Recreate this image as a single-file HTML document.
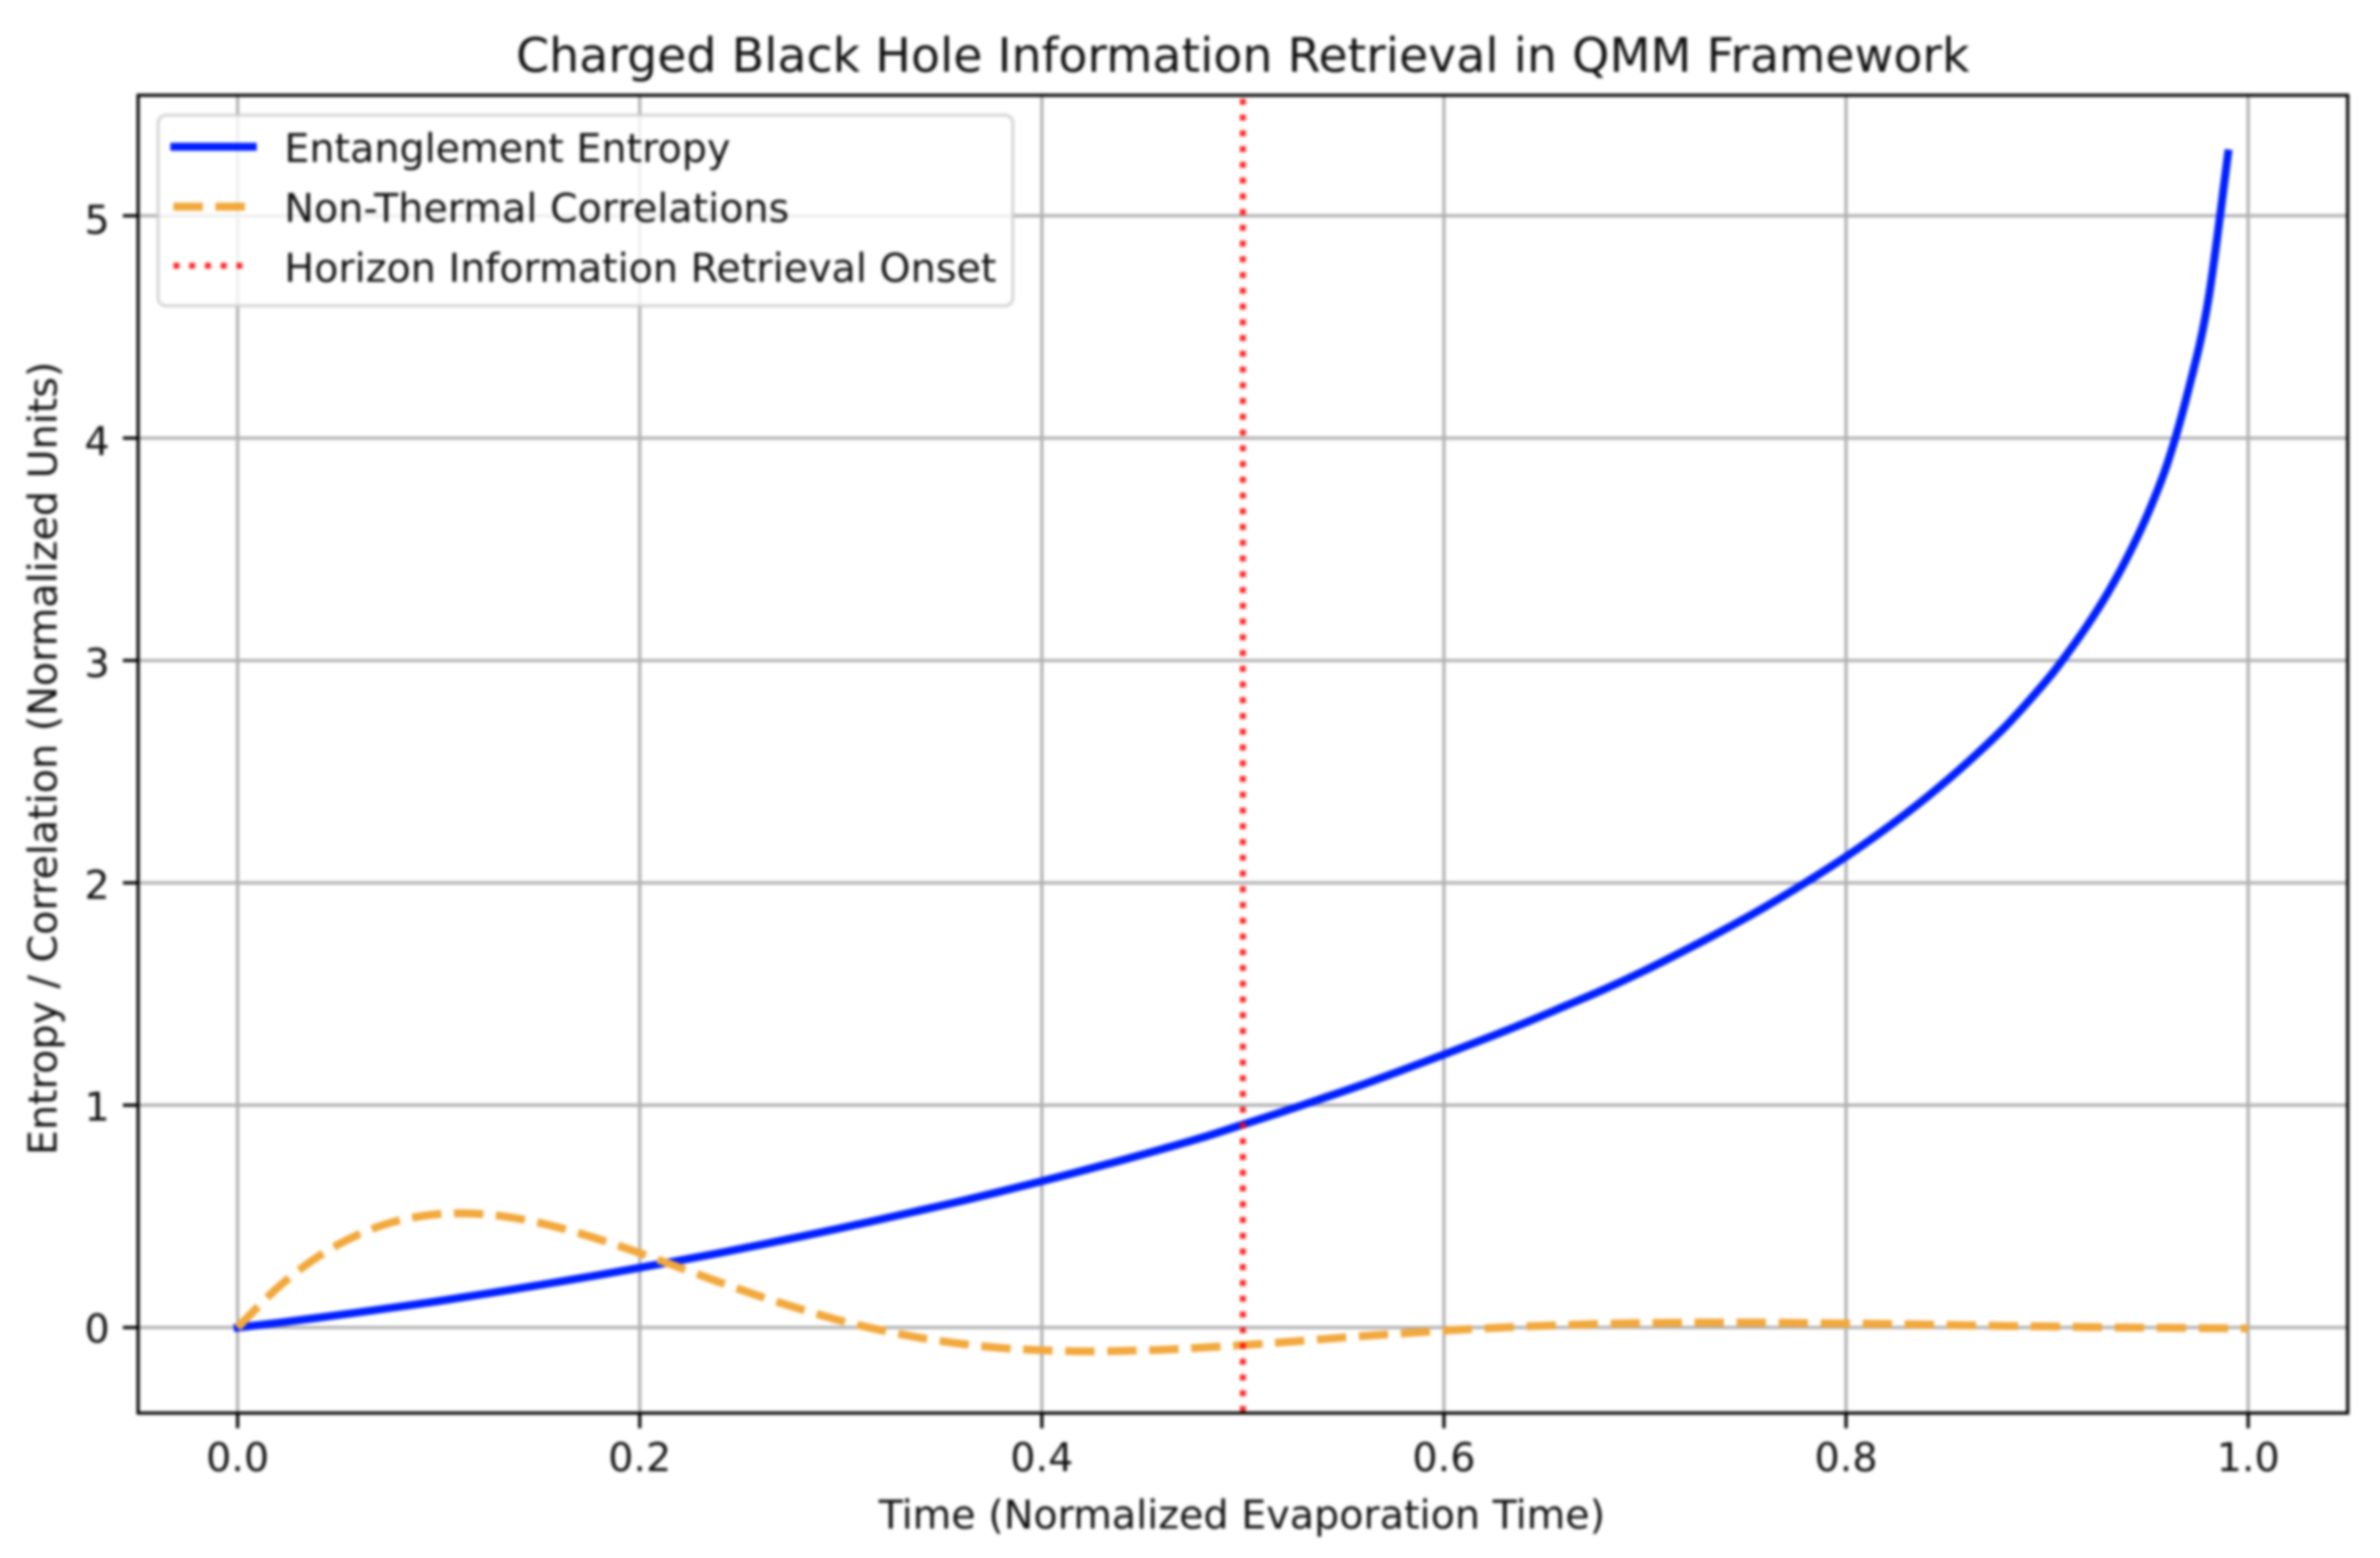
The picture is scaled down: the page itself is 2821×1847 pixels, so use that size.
<!DOCTYPE html>
<html lang="en">
<head>
<meta charset="utf-8">
<title>Charged Black Hole Information Retrieval in QMM Framework</title>
<style>
html,body{margin:0;padding:0;background:#fff;width:2821px;height:1847px;overflow:hidden}
svg{display:block}
text{font-family:"DejaVu Sans","Liberation Sans",sans-serif;fill:#111;text-rendering:geometricPrecision}
</style>
</head>
<body>
<svg id="chart" xmlns="http://www.w3.org/2000/svg" width="2821" height="1847" viewBox="0 0 2821 1847">
  <defs>
    <filter id="soft" x="0" y="0" width="2821" height="1847" filterUnits="userSpaceOnUse" color-interpolation-filters="sRGB">
      <feGaussianBlur stdDeviation="1.8"/>
    </filter>
  </defs>
  <g id="root" filter="url(#soft)">
    <rect width="2821" height="1847" fill="#fff"/>
    <text x="1473" y="85" font-size="56.3" text-anchor="middle">Charged Black Hole Information Retrieval in QMM Framework</text>
    <text x="1472" y="1812" font-size="47" text-anchor="middle">Time (Normalized Evaporation Time)</text>
    <text transform="translate(67 899) rotate(-90)" font-size="47" text-anchor="middle">Entropy / Correlation (Normalized Units)</text>
    <g id="grid"></g>
    <g id="ticks"></g>
    <g id="series"></g>
    <g id="spines"></g>
    <g id="legend">
      <rect x="187.5" y="136.5" width="1013" height="226" rx="9.4" ry="9.4" fill="#fff" fill-opacity="0.8" stroke="#ccc" stroke-opacity="0.8" stroke-width="3.8"/>
      <line x1="206.6" x2="299.6" y1="174" y2="174" stroke="#0020ff" stroke-width="9.4" stroke-linecap="square"/>
      <text x="337" y="192" font-size="47">Entanglement Entropy</text>
      <line x1="205.6" x2="293" y1="245" y2="245" stroke="#f2a83c" stroke-width="9.4" stroke-dasharray="34.8 15"/>
      <text x="337" y="263" font-size="47">Non-Thermal Correlations</text>
      <line x1="205.6" x2="290" y1="315" y2="315" stroke="#ff0000" stroke-opacity="0.85" stroke-width="7" stroke-dasharray="7 11.67"/>
      <text x="337" y="334" font-size="47">Horizon Information Retrieval Onset</text>
    </g>
  </g>
</svg>
<script>
const xTickValues = [0.0, 0.2, 0.4, 0.6, 0.8, 1.0];
const xTickLabels = ["0.0", "0.2", "0.4", "0.6", "0.8", "1.0"];
const yTickValues = [0, 1, 2, 3, 4, 5];
const yTickLabels = ["0", "1", "2", "3", "4", "5"];
const xDomain = [-0.0495, 1.0495];
const yDomain = [-0.3847, 5.542];
const onsetTime = [0.5];
const entropyTimes = [0,0.02,0.04,0.06,0.08,0.10,0.12,0.14,0.16,0.18,0.20,0.22,0.24,0.26,0.28,0.30,0.32,0.34,0.36,0.38,0.40,0.42,0.44,0.46,0.48,0.50,0.52,0.54,0.56,0.58,0.60,0.62,0.64,0.66,0.68,0.70,0.72,0.74,0.76,0.78,0.80,0.82,0.84,0.86,0.88,0.90,0.91,0.92,0.93,0.94,0.95,0.96,0.97,0.98,0.99];
const entropyValues = [0,0.021,0.044,0.068,0.093,0.119,0.147,0.176,0.206,0.237,0.269,0.302,0.336,0.372,0.409,0.447,0.487,0.528,0.569,0.613,0.658,0.705,0.753,0.803,0.855,0.913,0.971,1.032,1.094,1.160,1.228,1.297,1.369,1.445,1.522,1.606,1.697,1.792,1.893,2.002,2.118,2.245,2.384,2.538,2.710,2.913,3.030,3.158,3.301,3.466,3.658,3.891,4.207,4.612,5.280];
const correlationTimes = [0,0.02,0.04,0.06,0.08,0.10,0.12,0.14,0.16,0.18,0.20,0.22,0.24,0.26,0.28,0.30,0.32,0.34,0.36,0.38,0.40,0.42,0.44,0.46,0.48,0.50,0.52,0.54,0.56,0.58,0.60,0.62,0.64,0.66,0.68,0.70,0.72,0.74,0.76,0.78,0.80,0.82,0.84,0.86,0.88,0.90,0.92,0.94,0.96,0.98,1.00];
const correlationValues = [0,0.180,0.319,0.418,0.481,0.510,0.511,0.489,0.449,0.396,0.335,0.269,0.203,0.140,0.083,0.031,-0.012,-0.047,-0.073,-0.092,-0.102,-0.107,-0.105,-0.100,-0.090,-0.079,-0.066,-0.052,-0.038,-0.026,-0.014,-0.004,0.005,0.011,0.017,0.020,0.022,0.022,0.022,0.020,0.018,0.016,0.013,0.010,0.007,0.005,0.002,0.000,-0.001,-0.003,-0.004];

const NS = 'http://www.w3.org/2000/svg';
const plotLeft = 163.7, plotRight = 2782.7, plotTop = 112.9, plotBottom = 1675.2;
const xScale = v => plotLeft + (v - xDomain[0]) / (xDomain[1] - xDomain[0]) * (plotRight - plotLeft);
const yScale = v => plotBottom - (v - yDomain[0]) / (yDomain[1] - yDomain[0]) * (plotBottom - plotTop);

function make(parent, tag, props, text) {
  const el = document.createElementNS(NS, tag);
  for (const k in props) el.setAttribute(k, props[k]);
  if (text !== undefined) el.textContent = text;
  parent.appendChild(el);
  return el;
}
function smoothPath(ts, vs) {
  const p = ts.map((t, i) => [xScale(t), yScale(vs[i])]);
  let d = 'M' + p[0][0].toFixed(2) + ' ' + p[0][1].toFixed(2);
  for (let i = 0; i < p.length - 1; i++) {
    const a = p[Math.max(i - 1, 0)], b = p[i], c = p[i + 1], e = p[Math.min(i + 2, p.length - 1)];
    const c1x = b[0] + (c[0] - a[0]) / 6, c1y = b[1] + (c[1] - a[1]) / 6;
    const c2x = c[0] - (e[0] - b[0]) / 6, c2y = c[1] - (e[1] - b[1]) / 6;
    d += 'C' + c1x.toFixed(2) + ' ' + c1y.toFixed(2) + ' ' + c2x.toFixed(2) + ' ' + c2y.toFixed(2) + ' ' + c[0].toFixed(2) + ' ' + c[1].toFixed(2);
  }
  return d;
}

const gridG = document.getElementById('grid');
const ticksG = document.getElementById('ticks');
const seriesG = document.getElementById('series');
const spinesG = document.getElementById('spines');

xTickValues.forEach((v, i) => {
  const px = xScale(v);
  const gl = make(gridG, 'line', {x1: px, x2: px, y1: plotTop, y2: plotBottom, stroke: '#b0b0b0', 'stroke-width': 3.76});
  
  
  const tk = make(ticksG, 'line', {x1: px, x2: px, y1: plotBottom, y2: plotBottom + 18, stroke: '#000', 'stroke-width': 3.76});
  
  
  const lb = make(ticksG, 'text', {x: px, y: 1744, 'font-size': 47, 'text-anchor': 'middle'}, xTickLabels[i]);
  
  
});
yTickValues.forEach((v, i) => {
  const py = yScale(v);
  const gl = make(gridG, 'line', {x1: plotLeft, x2: plotRight, y1: py, y2: py, stroke: '#b0b0b0', 'stroke-width': 3.76});
  
  
  const tk = make(ticksG, 'line', {x1: plotLeft - 18, x2: plotLeft, y1: py, y2: py, stroke: '#000', 'stroke-width': 3.76});
  
  
  const lb = make(ticksG, 'text', {x: 130, y: py + 17.5 + 0.7 * v, 'font-size': 47, 'text-anchor': 'end'}, yTickLabels[i]);
  
  
});

const entropyLine = make(seriesG, 'path', {d: smoothPath(entropyTimes, entropyValues), fill: 'none', stroke: '#0020ff', 'stroke-width': 9.4, 'stroke-linecap': 'square', 'stroke-linejoin': 'round'});



const correlationLine = make(seriesG, 'path', {d: smoothPath(correlationTimes, correlationValues), fill: 'none', stroke: '#f2a83c', 'stroke-width': 9.4, 'stroke-dasharray': '34.8 15', 'stroke-linejoin': 'round'});



const onsetLine = make(seriesG, 'line', {x1: xScale(onsetTime[0]), x2: xScale(onsetTime[0]), y1: plotTop + 4.3, y2: plotBottom, stroke: '#ff0000', 'stroke-opacity': 0.85, 'stroke-width': 7, 'stroke-dasharray': '7 11.67'});



const frame = make(spinesG, 'rect', {x: plotLeft, y: plotTop, width: plotRight - plotLeft, height: plotBottom - plotTop, fill: 'none', stroke: '#000', 'stroke-width': 3.76});


</script>
</body>
</html>
